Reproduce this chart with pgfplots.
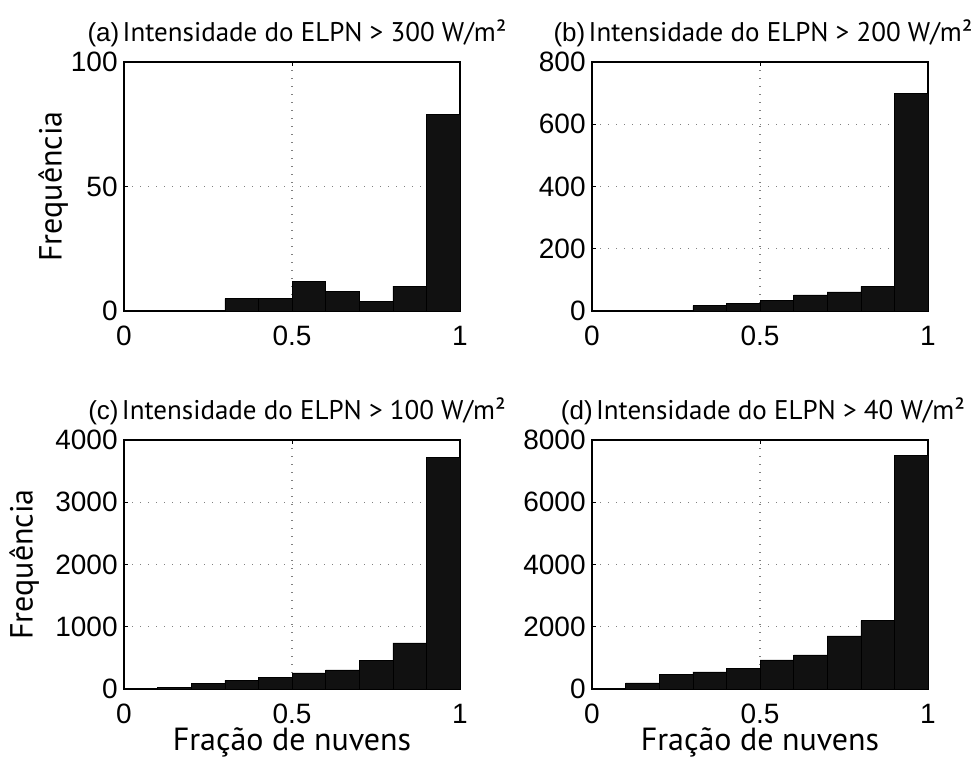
\documentclass[border=0pt]{standalone}
\usepackage{fontspec}
\setmainfont{Liberation Sans}
\newfontfamily\labfont{PT Sans}
\usepackage{pgfplots}
\pgfplotsset{compat=1.18}
\definecolor{barblack}{HTML}{111111}

\pgfplotsset{
  every axis title shift=0pt,
  histo/.style={
    scale only axis, width=168pt, height=124.5pt,
    xmin=0, xmax=1, ymin=0,
    xtick={0,0.5,1}, xticklabels={0,0.5,1},
    grid=major,
    major grid style={dash pattern=on 0.6pt off 3.4pt, gray, line width=0.6pt},
    tick align=inside, major tick length=2pt,
    tick style={black, line width=0.5pt},
    ticklabel style={font=\fontsize{14}{14}\selectfont, inner sep=0pt},
    xticklabel style={anchor=north, yshift=-7.5pt},
    yticklabel style={anchor=east, xshift=-3pt},
    axis line style={line width=0.6pt},
    title style={at={(0.5,1)}, anchor=base, yshift=10pt, inner sep=0pt},
    every axis y label/.style={at={(axis description cs:0,0.5)}, rotate=90, anchor=center},
    every axis x label/.style={at={(axis description cs:0.5,0)}, anchor=base, yshift=-31pt},
    label style={font=\labfont\fontsize{16}{16}\selectfont},
  },
  bars/.style={ybar interval, fill=barblack, draw=black, line width=0.3pt},
}
\newcommand{\ptitle}[2]{{\fontsize{13}{13}\selectfont(#1)}\,{\labfont\fontsize{13.5}{13.5}\selectfont Intensidade do ELPN > #2 W/m²}}

\begin{document}
\begin{tikzpicture}
\path[use as bounding box] (0,0) rectangle (485.5pt,379pt);

% (a) threshold 300 W/m2
\begin{axis}[histo, at={(62pt,223.5pt)}, anchor=south west,
  ymax=100, ytick={0,50,100}, yticklabels={0,50,100},
  ylabel={Frequência}, ylabel style={yshift=35.5pt},
  title={\ptitle{a}{300}}, title style={xshift=2.5pt}]
\addplot[bars] coordinates {
  (0.0,0) (0.1,0) (0.2,0) (0.3,5) (0.4,5) (0.5,12) (0.6,8)
  (0.7,4) (0.8,10) (0.9,79) (1.0,79)};
\end{axis}

% (b) threshold 200 W/m2
\begin{axis}[histo, at={(296pt,223.5pt)}, anchor=south west,
  ymax=800, ytick={0,200,400,600,800}, yticklabels={0,200,400,600,800},
  title={\ptitle{b}{200}}, title style={xshift=1.5pt}]
\addplot[bars] coordinates {
  (0.0,0) (0.1,0) (0.2,0) (0.3,17) (0.4,25) (0.5,33) (0.6,52)
  (0.7,61) (0.8,79) (0.9,700) (1.0,700)};
\end{axis}

% (c) threshold 100 W/m2
\begin{axis}[histo, at={(62pt,34.5pt)}, anchor=south west,
  ymax=4000, ytick={0,1000,2000,3000,4000}, yticklabels={0,1000,2000,3000,4000},
  ylabel={Frequência}, ylabel style={yshift=50pt},
  xlabel={Fração de nuvens},
  title={\ptitle{c}{100}}, title style={xshift=2.5pt}]
\addplot[bars] coordinates {
  (0.0,0) (0.1,20) (0.2,86) (0.3,139) (0.4,188) (0.5,257) (0.6,306)
  (0.7,461) (0.8,740) (0.9,3725) (1.0,3725)};
\end{axis}

% (d) threshold 40 W/m2
\begin{axis}[histo, at={(296pt,34.5pt)}, anchor=south west,
  ymax=8000, ytick={0,2000,4000,6000,8000}, yticklabels={0,2000,4000,6000,8000},
  xlabel={Fração de nuvens},
  title={\ptitle{d}{40}}, title style={xshift=1.5pt}]
\addplot[bars] coordinates {
  (0.0,0) (0.1,193) (0.2,472) (0.3,547) (0.4,665) (0.5,933) (0.6,1093)
  (0.7,1705) (0.8,2198) (0.9,7494) (1.0,7494)};
\end{axis}
\end{tikzpicture}
\end{document}
